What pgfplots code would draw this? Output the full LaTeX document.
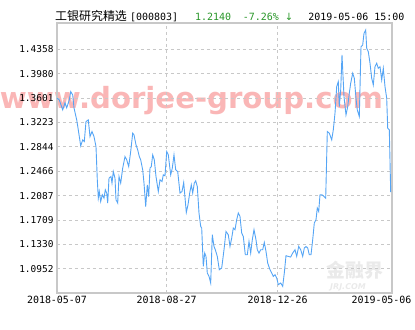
\documentclass[border=0pt]{standalone}
\usepackage{pgfplots}
\pgfplotsset{compat=1.18}
\usepackage{fontspec}
\setmainfont{DejaVu Sans Mono}
\newfontfamily\cjk{Noto Sans CJK SC}
\newfontfamily\wmfont{DejaVu Sans}
\definecolor{navline}{RGB}{85,165,245}
\definecolor{framegray}{RGB}{200,200,200}
\definecolor{gridgray}{RGB}{200,200,200}
\definecolor{upgreen}{RGB}{40,150,40}
\definecolor{wmpink}{RGB}{250,182,182}
\definecolor{jrjgray}{RGB}{234,234,234}
\definecolor{jrjred}{RGB}{250,225,225}
\pgfplotstableread{
x v
0 1.3598
2.3 1.3572
5.7 1.3417
8 1.3526
9.7 1.3448
12.3 1.3572
13.7 1.3701
15.7 1.3650
17 1.3448
19.7 1.3262
21.3 1.3107
23.7 1.2859
25.7 1.2952
27.3 1.2926
29 1.3236
31.3 1.3262
33 1.3003
35 1.3081
37 1.3003
39 1.2848
40.3 1.2332
41.3 1.2048
42.3 1.2150
43.7 1.1995
45.3 1.2099
47 1.2048
48.3 1.2177
49.7 1.2126
50.7 1.1971
52 1.2358
54 1.2383
55 1.2281
56.3 1.2460
58 1.2358
59 1.2022
60.7 1.1971
62 1.2383
63.7 1.2281
65.7 1.2513
68 1.2693
69.7 1.2642
71.7 1.2538
73.7 1.2771
75.7 1.3056
77 1.3029
79 1.2874
80.7 1.2797
82.3 1.2693
83.7 1.2642
85.7 1.2487
87 1.2281
88.7 1.1918
90.3 1.2254
91.7 1.2073
93 1.2513
94.3 1.2538
95.7 1.2719
97.3 1.2642
99 1.2383
101.3 1.2150
103 1.2332
105 1.2305
106.3 1.2409
108 1.2394
109.7 1.2771
111.3 1.2719
113.7 1.2409
115.3 1.2513
117 1.2719
118.7 1.2487
120.7 1.2460
123 1.2126
125 1.2150
126.7 1.2290
129.3 1.1825
131 1.1944
132.7 1.2126
134.3 1.2254
135.7 1.2126
137.3 1.2281
138.7 1.2316
140.3 1.2228
142 1.1816
143.7 1.1608
144.7 1.1583
146.3 1.0988
147.7 1.1195
149 1.1143
150.3 1.0885
152 1.0833
153.7 1.0730
155.3 1.1479
157 1.1298
158.3 1.1247
160.3 1.1143
162.3 1.0936
164.7 1.0963
167 1.1247
169 1.1530
171.3 1.1479
173 1.1298
174.7 1.1428
176.3 1.1583
178 1.1557
179.7 1.1712
181.3 1.1816
183 1.1763
184.7 1.1505
186.3 1.1453
188.3 1.1169
190.3 1.1169
192 1.1375
193.7 1.1195
195.3 1.1402
197 1.1557
199 1.1402
200.3 1.1247
202 1.1195
203.7 1.1247
205.7 1.1247
207.3 1.1360
209 1.1220
210.7 1.1040
213 1.0936
214.7 1.0885
216.3 1.0833
218 1.0859
219.7 1.0808
221.3 1.0704
223.7 1.0730
225.7 1.0678
227.3 1.0885
229 1.1154
231.3 1.1143
233.7 1.1133
235.7 1.1195
238 1.1247
239.7 1.1143
241.7 1.1298
243.7 1.1247
245.7 1.1143
247.3 1.1273
249 1.1298
250.7 1.1273
252.3 1.1169
254 1.1169
255.7 1.1402
257.3 1.1660
259 1.1712
260.3 1.1893
261.7 1.1840
263 1.2099
265 1.2099
267 1.2073
268.7 1.2048
270.3 1.3081
272.3 1.3056
274.7 1.2952
276.3 1.3107
278 1.3366
279.7 1.3778
281.3 1.3856
282.3 1.3468
283.7 1.3727
285 1.4270
287 1.3623
289 1.3339
290.7 1.3468
292.3 1.3676
293.7 1.3831
295.7 1.3986
297.3 1.3908
299 1.3598
300.3 1.3417
302.3 1.3313
304 1.4398
305.7 1.4425
307 1.4606
308.7 1.4657
309.7 1.4374
311.3 1.4321
313 1.4141
314.7 1.3908
316.3 1.3805
318 1.4088
319.7 1.4141
321.3 1.4063
323 1.4088
324.7 1.3882
326.3 1.4063
328 1.3778
329.7 1.3598
330.7 1.3133
332.3 1.3107
333.7 1.2140
}\navdata
\begin{document}
\begin{tikzpicture}[x=1bp,y=1bp]
\path[use as bounding box] (-57,-37) rectangle (358,293);
% watermarks behind the chart
\node[anchor=base, inner sep=0pt, text=wmpink] at (134.5,185)
  {\resizebox{383bp}{!}{\wmfont\bfseries\fontsize{28.7}{30}\selectfont www.dorjee-group.com}};
\node[inner sep=0pt, text=jrjgray] at (298,23) {\cjk\bfseries\fontsize{19}{19}\selectfont 金融界};
\node[inner sep=0pt, text=jrjgray] at (291,6) {\wmfont\bfseries\itshape\fontsize{8}{8}\selectfont JRJ.COM};
\begin{axis}[
  at={(0,0)}, anchor=south west,
  scale only axis, width=335bp, height=270bp,
  xmin=0, xmax=335, ymin=1.0575, ymax=1.4766,
  axis line style={draw=framegray, line width=1.1bp},
  major tick length=0pt,
  tick style={draw=none},
  xtick={0,109.7,220.7},
  xticklabels={2018-05-07,2018-08-27,2018-12-26},
  extra x ticks={335},
  extra x tick labels={2019-05-06},
  extra x tick style={grid=none, xticklabel style={xshift=-10.5bp}},
  ytick={1.0952,1.1330,1.1709,1.2087,1.2466,1.2844,1.3223,1.3601,1.3980,1.4358},
  yticklabel style={/pgf/number format/.cd, fixed, fixed zerofill, precision=4, assume math mode=true},
  ticklabel style={font=\fontsize{9.5}{10}\selectfont, text=black},
  xticklabel style={font=\fontsize{10}{10}\selectfont},
  ymajorgrids, xmajorgrids,
  major grid style={draw=gridgray, dash pattern=on 3bp off 3bp, line width=0.8bp},
  clip=true,
]
\addplot[navline, line width=0.9bp, no marks] table[x=x, y=v] {\navdata};
\end{axis}
% title line
\node[anchor=base west, inner sep=0pt] at (-2,273) {\cjk\fontsize{12}{12}\selectfont 工银研究精选};
\node[anchor=base west, inner sep=0pt] at (73,273) {\fontsize{10}{10}\selectfont [000803]};
\node[anchor=base west, inner sep=0pt, text=upgreen] at (138,273) {\fontsize{10}{10}\selectfont 1.2140};
\node[anchor=base west, inner sep=0pt, text=upgreen] at (185.7,273) {\fontsize{10}{10}\selectfont -7.26\% {\wmfont ↓}};
\node[anchor=base west, inner sep=0pt] at (251.3,273) {\fontsize{10}{10}\selectfont 2019-05-06 15:00};
\end{tikzpicture}
\end{document}
